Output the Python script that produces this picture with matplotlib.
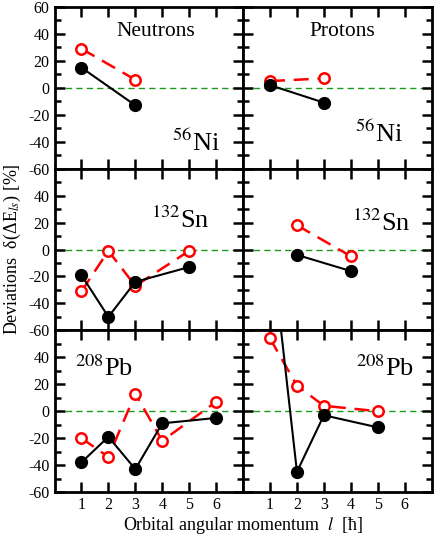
import numpy as np
import matplotlib
matplotlib.use('Agg')
import matplotlib.pyplot as plt

plt.rcParams['font.family'] = ['Liberation Serif', 'DejaVu Serif']
plt.rcParams['mathtext.fontset'] = 'stix'
plt.rcParams['axes.unicode_minus'] = False

## values (l, deviation in %)
ni_n_l_black = [1, 3]
ni_n_black = [15, -13]
ni_n_l_red = [1, 3]
ni_n_red = [29, 6]

ni_p_l_black = [1, 3]
ni_p_black = [2, -11]
ni_p_l_red = [1, 3]
ni_p_red = [5, 7]

sn_n_l_black = [1, 2, 3, 5]
sn_n_black = [-19, -50, -24, -13]
sn_n_l_red = [1, 2, 3, 5]
sn_n_red = [-31, -1, -27, -1]

sn_p_l_black = [2, 4]
sn_p_black = [-4, -16]
sn_p_l_red = [2, 4]
sn_p_red = [18, -5]

pb_n_l_black = [1, 2, 3, 4, 6]
pb_n_black = [-38, -19, -43, -9, -5]
pb_n_l_red = [1, 2, 3, 4, 6]
pb_n_red = [-20, -34, 13, -22, 7]

pb_p_l_black = [1, 2, 3, 5]
pb_p_black = [133, -45, -3, -12]
pb_p_l_red = [1, 2, 3, 5]
pb_p_red = [54, 19, 4, 0]

panels = [
    [(ni_n_l_black, ni_n_black, ni_n_l_red, ni_n_red),
     (ni_p_l_black, ni_p_black, ni_p_l_red, ni_p_red)],
    [(sn_n_l_black, sn_n_black, sn_n_l_red, sn_n_red),
     (sn_p_l_black, sn_p_black, sn_p_l_red, sn_p_red)],
    [(pb_n_l_black, pb_n_black, pb_n_l_red, pb_n_red),
     (pb_p_l_black, pb_p_black, pb_p_l_red, pb_p_red)],
]

# nucleus labels: (mass number, symbol, x, y) per panel, x/y in data units
nucleus = [
    [('56', 'Ni', 4.35, -47), ('56', 'Ni', 4.15, -40.5)],
    [('132', 'Sn', 3.6, 16), ('132', 'Sn', 4.05, 14)],
    [('208', 'Pb', 0.75, 26.5), ('208', 'Pb', 4.2, 26.5)],
]

fig, axs = plt.subplots(3, 2, figsize=(4.36, 5.36), dpi=100)
fig.subplots_adjust(left=0.125, right=0.990, top=0.987, bottom=0.082,
                    hspace=0, wspace=0)

yt = list(range(-60, 61, 20))

for i in range(3):
    for j in range(2):
        ax = axs[i, j]
        lb, yb, lr, yr = panels[i][j]
        ax.axhline(0, color='#1a9a1a', lw=1.0, dashes=(4.5, 3), zorder=1)
        ax.plot(lr, yr, color='red', lw=1.8, dashes=(6, 3.5), marker='o',
                ms=7.5, mfc='white', mec='red', mew=1.8, zorder=2)
        ax.plot(lb, yb, color='black', lw=1.5, marker='o', ms=8.5,
                mfc='black', mec='black', zorder=3)

        ax.set_xlim(0, 7)
        ax.set_ylim(-60, 60)
        ax.set_xticks(range(1, 7))
        ax.set_yticks(yt)
        ax.set_yticks(range(-50, 60, 20), minor=True)
        ax.tick_params(which='both', direction='in', top=True, right=True,
                       width=1.8, labelsize=11.5)
        ax.tick_params(which='major', length=7.5)
        ax.tick_params(which='minor', length=4)
        for s in ax.spines.values():
            s.set_linewidth(2.0)

        if j == 0:
            labels = [str(v) for v in yt]
            if i > 0:
                labels[-1] = ''
            ax.set_yticklabels(labels)
        else:
            ax.set_yticklabels([])
        if i < 2:
            ax.set_xticklabels([])

        mass, sym, tx, ty = nucleus[i][j]
        ax.text(tx, ty, r'$^{%s}$' % mass + sym, fontsize=19,
                ha='left', va='baseline')

axs[0, 0].text(3.76, 42, 'Neutrons', fontsize=15.5, ha='center', va='center')
axs[0, 1].text(3.7, 42, 'Protons', fontsize=15.5, ha='center', va='center')

fig.text(0.028, 0.535, 'Deviations  δ(ΔE$_{ls}$) [%]',
         rotation=90, ha='center', va='center', fontsize=13)
fig.text(0.557, 0.02, 'Orbital angular momentum  $l$  [ħ]',
         ha='center', va='center', fontsize=13)

fig.savefig('out.png', dpi=100)
